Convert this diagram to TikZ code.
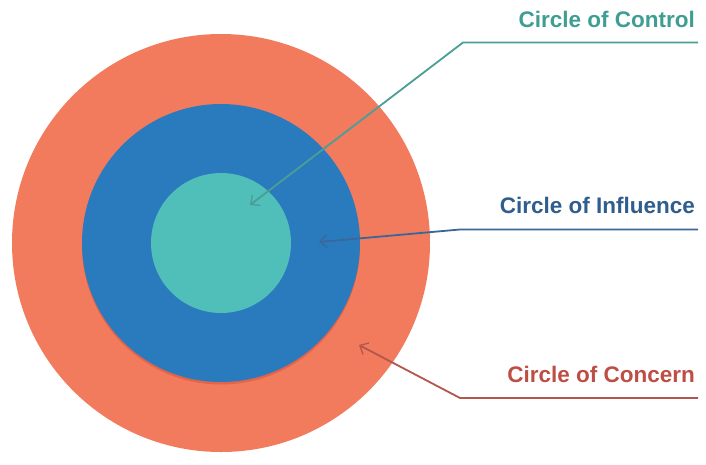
\documentclass[tikz,border=0pt]{standalone}
\usepackage{fontspec}
\setmainfont{Liberation Sans}
\usetikzlibrary{arrows.meta}
\definecolor{concernfill}{HTML}{F27B5E}
\definecolor{concernshadow}{HTML}{D9553A}
\definecolor{influencefill}{HTML}{2A7BBE}
\definecolor{controlfill}{HTML}{50BFBA}
\definecolor{controltext}{HTML}{3F9E94}
\definecolor{influencetext}{HTML}{2F5E8E}
\definecolor{concerntext}{HTML}{BE4E45}
\definecolor{controlline}{HTML}{4A9E96}
\definecolor{influenceline}{HTML}{3A679A}
\definecolor{concernline}{HTML}{B3564E}
\tikzset{
  ring/.style={circle, inner sep=0pt, draw=none},
  lbl/.style={anchor=base east, inner sep=0pt, font=\fontsize{22.5}{27}\selectfont\bfseries},
  pointer/.style={line width=1.8pt, -{Straight Barb[length=7pt,width=13pt,line width=1.3pt]}},
}
\begin{document}
\begin{tikzpicture}[x=1pt,y=-1pt]
\useasboundingbox (0,0) rectangle (706,464);
\fill[white] (0,0) rectangle (706,464);
\node[ring, fill=concernfill, minimum size=418pt] (outer) at (221,243) {};
\node[ring, fill=concernshadow, opacity=0.6, minimum size=278pt] (shadow) at (221,245.5) {};
\node[ring, fill=influencefill, minimum size=278pt] (middle) at (221,243) {};
\node[ring, fill=controlfill, minimum size=140pt] (inner) at (221,243) {};

\node[lbl, text=controltext] (tcontrol) at (695,27) {Circle of Control};
\node[lbl, text=influencetext] (tinfluence) at (695,213) {Circle of Influence};
\node[lbl, text=concerntext] (tconcern) at (695,382) {Circle of Concern};

\coordinate (c1) at (698,42.5);
\coordinate (c2) at (463,42.5);
\coordinate (c3) at (250,205);
\coordinate (i1) at (698,229.5);
\coordinate (i2) at (460,229.5);
\coordinate (i3) at (319,242);
\coordinate (k1) at (698,398);
\coordinate (k2) at (460,398);
\coordinate (k3) at (359,345);

\draw[pointer, draw=controlline] (c1) -- (c2) -- (c3);
\draw[pointer, draw=influenceline] (i1) -- (i2) -- (i3);
\draw[pointer, draw=concernline] (k1) -- (k2) -- (k3);
\end{tikzpicture}
\end{document}
